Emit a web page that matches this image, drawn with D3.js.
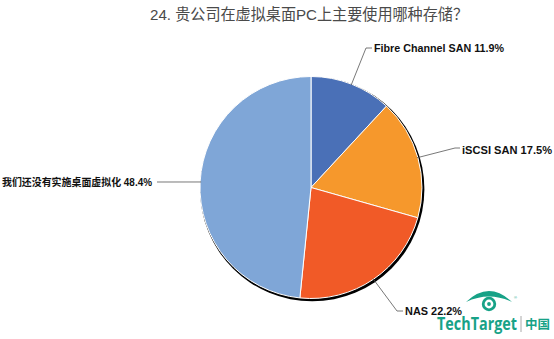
<!DOCTYPE html>
<html><head><meta charset="utf-8">
<script src="https://cdn.jsdelivr.net/npm/d3@7"></script>
<style>body{margin:0;background:#fff;} svg{display:block;}</style>
</head><body>
<script>
const title = "24. 贵公司在虚拟桌面PC上主要使用哪种存储？";
const categories = ["Fibre Channel SAN", "iSCSI SAN", "NAS", "我们还没有实施桌面虚拟化"];
const values = [11.9, 17.5, 22.2, 48.4];
const colors = ["#4a70b7", "#f6982c", "#f15a27", "#7fa6d7"];

const W = 554, H = 339;
const svg = d3.select("body").append("svg").attr("width", W).attr("height", H);
const font = "'Liberation Sans', Arial, 'Noto Sans CJK SC', sans-serif";

svg.append("text").attr("x", 150).attr("y", 20).attr("text-anchor", "start")
  .attr("font-family", font)
  .attr("font-size", 15.5).attr("fill", "#4a4a4a")
  .attr("textLength", 318).attr("lengthAdjust", "spacingAndGlyphs").text(title);

const cx = 311, cy = 187.5, r = 111;
const g = svg.append("g").attr("transform", `translate(${cx},${cy})`);
g.append("circle").attr("cx", 1.2).attr("cy", 1.6).attr("r", r + 1.2).attr("fill", "#000");

const pie = d3.pie().sort(null).value(d => d)(values);
const arc = d3.arc().innerRadius(0).outerRadius(r);
g.selectAll("path.s").data(pie).join("path").attr("class", "s")
  .attr("d", arc).attr("fill", (d, i) => colors[i])
  .attr("stroke", "#fff").attr("stroke-width", 1);

// leader lines + labels
const labelSpecs = [
  {elbow: [366 - cx, 48 - cy], end: [372 - cx, 48 - cy], anchor: "start", tx: 374 - cx, ty: 52 - cy, len: 130},
  {elbow: [455 - cx, 148 - cy], end: [460 - cx, 148 - cy], anchor: "start", tx: 462 - cx, ty: 154 - cy, len: 90},
  {elbow: [397 - cx, 311 - cy], end: [403 - cx, 311 - cy], anchor: "start", tx: 405 - cx, ty: 315 - cy, len: 57},
  {elbow: [157 - cx, 182 - cy], end: [157 - cx, 182 - cy], anchor: "start", tx: 2 - cx, ty: 185.5 - cy, len: 150}
];
pie.forEach((d, i) => {
  const s = labelSpecs[i];
  const a = (d.startAngle + d.endAngle) / 2;
  const p0 = [Math.sin(a) * (r - 1), -Math.cos(a) * (r - 1)];
  g.append("polyline").attr("points", [p0, s.elbow, s.end].map(p => p.join(",")).join(" "))
    .attr("fill", "none").attr("stroke", "#555").attr("stroke-width", 0.8);
  g.append("text").attr("x", s.tx).attr("y", s.ty).attr("text-anchor", s.anchor)
    .attr("font-family", font).attr("font-size", i === 3 ? 10.5 : 11).attr("font-weight", "bold")
    .attr("textLength", s.len).attr("lengthAdjust", "spacingAndGlyphs")
    .attr("fill", "#111").text(`${categories[i]} ${values[i]}%`);
});

// logo
const teal = "#17a287";
const logo = svg.append("g");
logo.append("path").attr("d", "M466,302 Q489,280 512,302 Q489,291 466,302 Z").attr("fill", teal);
logo.append("circle").attr("cx", 489).attr("cy", 304).attr("r", 5.8).attr("fill", "none").attr("stroke", teal).attr("stroke-width", 2.8);
logo.append("circle").attr("cx", 489).attr("cy", 304).attr("r", 1.9).attr("fill", teal);
logo.append("text").attr("x", 514).attr("y", 299).attr("font-family", font).attr("font-size", 4).attr("fill", teal).text("®");
logo.append("text").attr("x", 437).attr("y", 330).attr("font-family", "'Open Sans', 'Liberation Sans', sans-serif")
  .attr("font-size", 18).attr("font-weight", "bold").attr("fill", teal)
  .attr("textLength", 80).attr("lengthAdjust", "spacingAndGlyphs").text("TechTarget");
logo.append("line").attr("x1", 521).attr("x2", 521).attr("y1", 316).attr("y2", 332).attr("stroke", "#aaa").attr("stroke-width", 1);
logo.append("text").attr("x", 525).attr("y", 329).attr("font-family", "'Noto Sans CJK SC', sans-serif")
  .attr("font-size", 12.5).attr("font-weight", "bold").attr("fill", teal).text("中国");
</script>
</body></html>
